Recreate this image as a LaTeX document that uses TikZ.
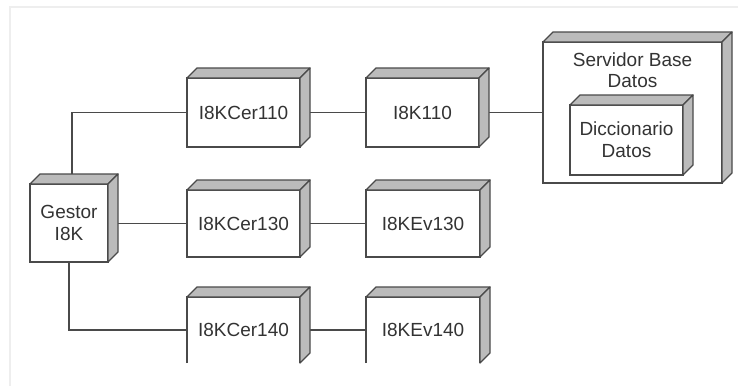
\documentclass[tikz,border=0pt]{standalone}
\usepackage{fontspec}
\setmainfont{Liberation Sans}
\usetikzlibrary{backgrounds}
\definecolor{edgec}{HTML}{4A4A4A}
\definecolor{sidec}{HTML}{BBBBBB}
\definecolor{txtc}{HTML}{333333}
\definecolor{framec}{HTML}{EEEEEE}
\tikzset{
  box/.style={draw=edgec, line width=1.3pt, fill=white, anchor=north west, inner sep=0pt, outer sep=0pt,
    align=center, text=txtc, font=\fontsize{19}{22}\selectfont},
  openbox/.style={box, draw=none},
  link/.style={draw=edgec, line width=1.1pt},
  sideface/.style={fill=sidec, draw=edgec, line width=1.3pt, line join=round},
  lbl/.style={align=center, text=txtc, inner sep=0pt, font=\fontsize{19}{21}\selectfont},
}
\newcommand{\boxfaces}[2]{%
  \path[sideface] (#1.north west) -- ++(#2,-#2) -- ([shift={(#2,-#2)}]#1.north east) -- (#1.north east) -- cycle;
  \path[sideface] (#1.north east) -- ++(#2,-#2) -- ([shift={(#2,-#2)}]#1.south east) -- (#1.south east) -- cycle;
}
\begin{document}
\begin{tikzpicture}[x=1pt, y=-1pt]
\useasboundingbox (0,0) rectangle (738,386);
\draw[framec, line width=1.5pt] (10,386) -- (10,7) -- (738,7);

% nodes
\node[box, minimum width=78, minimum height=78] (gestor) at (30,184) {Gestor\\I8K};
\boxfaces{gestor}{10}
\node[box, minimum width=113, minimum height=69] (cer110) at (187,78) {I8KCer110};
\boxfaces{cer110}{10}
\node[box, minimum width=113, minimum height=69] (k110) at (366,78) {I8K110};
\boxfaces{k110}{10}
\node[box, minimum width=113, minimum height=67] (cer130) at (187,190) {I8KCer130};
\boxfaces{cer130}{10}
\node[box, minimum width=114, minimum height=67] (ev130) at (366,190) {I8KEv130};
\boxfaces{ev130}{10}
\node[openbox, minimum width=113, minimum height=66] (cer140) at (187,297) {I8KCer140};
\draw[edgec, line width=1.3pt] (cer140.south west) -- (cer140.north west) -- (cer140.north east) -- (cer140.south east);
\boxfaces{cer140}{10}
\node[openbox, minimum width=114, minimum height=66] (ev140) at (366,297) {I8KEv140};
\draw[edgec, line width=1.3pt] (ev140.south west) -- (ev140.north west) -- (ev140.north east) -- (ev140.south east);
\boxfaces{ev140}{10}

\node[box, minimum width=179, minimum height=141] (srv) at (543,42) {};
\boxfaces{srv}{10}
\node[lbl] (srvlbl) at (632.5,70) {Servidor Base\\Datos};
\node[box, minimum width=113, minimum height=70] (dic) at (570,105) {Diccionario\\Datos};
\boxfaces{dic}{10}

% connectors
\begin{scope}[on background layer]
\draw[link] ([xshift=3]gestor.north) |- (cer110.west);
\draw[link] (gestor.east |- cer130.west) -- (cer130.west);
\draw[link] (gestor.south) |- (cer140.west);
\draw[link] (cer110.east) -- (k110.west);
\draw[link] (cer130.east) -- (ev130.west);
\draw[link] (cer140.east) -- (ev140.west);
\draw[link] (k110.east) -- (srv.west |- k110.east);
\end{scope}
\end{tikzpicture}
\end{document}
